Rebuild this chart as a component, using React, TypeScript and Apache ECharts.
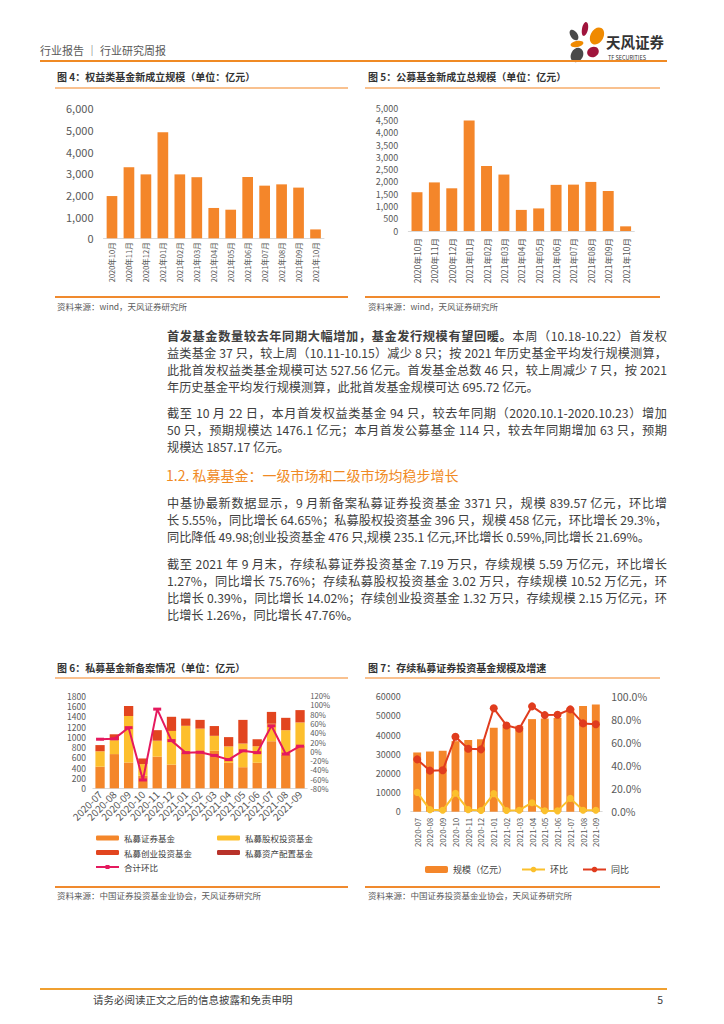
import React, { useEffect, useRef } from 'react';
import * as echarts from 'echarts';

const FONT = '"Noto Sans CJK SC", "Noto Sans", sans-serif';
const ORANGE = '#F4862A';
const AXIS_TEXT = '#595959';

// Figure 4 / 5
const months13 = ['2020年10月', '2020年11月', '2020年12月', '2021年01月', '2021年02月', '2021年03月', '2021年04月', '2021年05月', '2021年06月', '2021年07月', '2021年08月', '2021年09月', '2021年10月'];
const equityNew = [1950, 3280, 2950, 4890, 2950, 2820, 1400, 1320, 2830, 2430, 2490, 2340, 410];
const publicNew = [1580, 1980, 1740, 4500, 2650, 2300, 860, 920, 1880, 1890, 2000, 1630, 190];

// Figure 6
const months15 = ['2020-07', '2020-08', '2020-09', '2020-10', '2020-11', '2020-12', '2021-01', '2021-02', '2021-03', '2021-04', '2021-05', '2021-06', '2021-07', '2021-08', '2021-09'];
const pSecurities = [420, 665, 500, 245, 615, 460, 690, 730, 730, 495, 410, 495, 915, 650, 830];
const pEquity = [300, 270, 905, 225, 310, 655, 525, 430, 290, 320, 460, 320, 340, 480, 450];
const pVenture = [120, 115, 195, 110, 205, 275, 140, 170, 190, 180, 460, 140, 230, 240, 240];
const pAllocation = [0, 0, 0, 0, 0, 0, 0, 0, 0, 0, 0, 0, 0, 0, 0];
const pTotalRing = [26, 27, 51, -62, 91, 23, -3, -2, -9, -18, 1, -3, 55, -6, 11];

// Figure 7
const stockScale = [30900, 31400, 31800, 36800, 37400, 37800, 43800, 44400, 44800, 48300, 48600, 48900, 54000, 55200, 55900];
const stockRing = [16.8, 1.8, 1.2, 16.0, 1.8, 1.1, 15.7, 1.0, 1.3, 7.8, 0.8, 0.7, 11.6, 1.2, 1.3];
const stockYoy = [45.5, 35.7, 36.0, 65.2, 54.8, 54.2, 89.9, 75.0, 72.2, 91.6, 84.0, 84.3, 89.0, 76.8, 76.0];

const thousands = (v: number) => v.toString().replace(/\B(?=(\d{3})+(?!\d))/g, ',');
const plain = (v: number) => String(v);

const yBase = (gridIndex: number, min: number, max: number, interval: number, fontSize: number, formatter: any, margin: number, position?: string) => ({
  type: 'value', gridIndex, min, max, interval, position,
  axisLine: { show: false }, axisTick: { show: false }, splitLine: { show: false },
  axisLabel: { color: AXIS_TEXT, fontSize, lineHeight: fontSize, fontFamily: FONT, formatter, margin, showMinLabel: true, showMaxLabel: true, hideOverlap: false },
});

const xBase = (gridIndex: number, data: string[], rotate: number, fontSize: number, margin: number) => ({
  type: 'category', gridIndex, data,
  axisLine: { show: true, lineStyle: { color: '#D9D9D9', width: 1 } },
  axisTick: { show: false },
  axisLabel: { color: AXIS_TEXT, fontSize, fontFamily: FONT, rotate, margin, interval: 0 },
});

const petal = (x: number, y: number, rx: number, ry: number, rotation: number, color: string) => ({
  type: 'ellipse', x, y, rotation, shape: { cx: 0, cy: 0, rx, ry }, style: { fill: color },
});

const option: any = {
  animation: false,
  textStyle: { fontFamily: FONT },
  grid: [
    { left: 103.5, top: 108.3, width: 220.5, height: 130 },
    { left: 408.3, top: 108.3, width: 226, height: 122.7 },
    { left: 92.9, top: 695.7, width: 214.3, height: 92.6 },
    { left: 410.8, top: 696.7, width: 191.4, height: 115 },
  ],
  xAxis: [
    xBase(0, months13, 90, 7.5, 4),
    xBase(1, months13, 90, 8.5, 7),
    xBase(2, months15, 45, 10, 4),
    xBase(3, months15, 90, 8, 6),
  ],
  yAxis: [
    yBase(0, 0, 6000, 1000, 11, thousands, 10),
    yBase(1, 0, 5000, 500, 9, thousands, 10),
    yBase(2, 0, 1800, 200, 8.5, plain, 7, 'left'),
    yBase(2, -80, 120, 20, 7.7, (v: number) => v + '%', 3, 'right'),
    yBase(3, 0, 60000, 10000, 9, plain, 10, 'left'),
    yBase(3, 0, 100, 20, 10.5, (v: number) => v.toFixed(1) + '%', 9, 'right'),
  ],
  legend: [
    {
      left: 95, top: 833, orient: 'vertical', itemWidth: 23, itemHeight: 5, itemGap: 4.5, padding: 0,
      textStyle: { fontSize: 8.5, color: '#404040', fontFamily: FONT, lineHeight: 10 },
      data: ['私募证券基金', '私募创业投资基金', '合计环比'],
    },
    {
      left: 217, top: 833, orient: 'vertical', itemWidth: 23, itemHeight: 5, itemGap: 4.5, padding: 0,
      textStyle: { fontSize: 8.5, color: '#404040', fontFamily: FONT, lineHeight: 10 },
      data: ['私募股权投资基金', '私募资产配置基金'],
    },
    {
      left: 420, top: 860, orient: 'horizontal', itemWidth: 23, itemHeight: 7, itemGap: 14,
      textStyle: { fontSize: 9, color: '#404040', fontFamily: FONT },
      data: ['规模（亿元）', '环比', '同比'],
    },
  ],
  series: [
    { name: '权益类基金新成立规模', type: 'bar', xAxisIndex: 0, yAxisIndex: 0, data: equityNew, barWidth: '63%', itemStyle: { color: ORANGE } },
    { name: '公募基金新成立总规模', type: 'bar', xAxisIndex: 1, yAxisIndex: 1, data: publicNew, barWidth: '63%', itemStyle: { color: ORANGE } },
    { name: '私募证券基金', type: 'bar', stack: 'p', xAxisIndex: 2, yAxisIndex: 2, data: pSecurities, barWidth: '65%', itemStyle: { color: '#F4862A' } },
    { name: '私募股权投资基金', type: 'bar', stack: 'p', xAxisIndex: 2, yAxisIndex: 2, data: pEquity, barWidth: '65%', itemStyle: { color: '#FDBF2D' } },
    { name: '私募创业投资基金', type: 'bar', stack: 'p', xAxisIndex: 2, yAxisIndex: 2, data: pVenture, barWidth: '65%', itemStyle: { color: '#E2451F' } },
    { name: '私募资产配置基金', type: 'bar', stack: 'p', xAxisIndex: 2, yAxisIndex: 2, data: pAllocation, barWidth: '65%', itemStyle: { color: '#B8322A' } },
    { name: '合计环比', type: 'line', xAxisIndex: 2, yAxisIndex: 3, data: pTotalRing, symbol: 'rect', symbolSize: [8, 3], lineStyle: { color: '#E5195E', width: 2 }, itemStyle: { color: '#E5195E' }, z: 5 },
    { name: '规模（亿元）', type: 'bar', xAxisIndex: 3, yAxisIndex: 4, data: stockScale, barWidth: '62%', itemStyle: { color: ORANGE } },
    { name: '环比', type: 'line', xAxisIndex: 3, yAxisIndex: 5, data: stockRing, symbol: 'circle', symbolSize: 7, lineStyle: { color: '#FBC02D', width: 2 }, itemStyle: { color: '#FBC02D' }, z: 5 },
    { name: '同比', type: 'line', xAxisIndex: 3, yAxisIndex: 5, data: stockYoy, symbol: 'circle', symbolSize: 8, lineStyle: { color: '#E03C1E', width: 2 }, itemStyle: { color: '#E03C1E' }, z: 6 },
  ],
  graphic: [
    petal(585, 29, 3, 7, -0.2, '#A0143C'),
    petal(574, 35, 3.5, 6, 0.6, '#4A4A4A'),
    petal(597, 36, 6.5, 9, -0.5, '#F08A00'),
    petal(577, 44, 6.5, 3, 0.2, '#F08A00'),
    petal(577, 55, 6, 7.5, -0.5, '#4A4A4A'),
    petal(593, 52, 6, 5, 0.5, '#A0143C'),
  ],
};

const T = (p: { x: number; y: number; size: number; color?: string; bold?: boolean; children: any; right?: boolean }) => (
  <div style={{
    position: 'absolute', left: p.right ? undefined : p.x, right: p.right ? 724 - p.x : undefined, top: p.y, transform: 'translateY(-50%)',
    fontSize: p.size, lineHeight: 1.15, color: p.color || '#404040', fontWeight: p.bold ? 700 : 400, whiteSpace: 'nowrap',
  }}>{p.children}</div>
);

const HLine = (p: { x1: number; x2: number; y: number; color: string; w: number }) => (
  <div style={{ position: 'absolute', left: p.x1, top: p.y - p.w / 2, width: p.x2 - p.x1, height: p.w, background: p.color }} />
);

const TEXT_L = 167;
const TEXT_W = 500;
const BODY = 12.2;

const Line = (p: { y: number; last?: boolean; children: any }) => (
  <div style={{
    position: 'absolute', left: TEXT_L, width: TEXT_W, top: p.y - 8.5, height: 17, lineHeight: '17px', fontSize: BODY,
    color: '#404040', whiteSpace: 'nowrap', textAlign: 'justify', textAlignLast: p.last ? 'left' : 'justify',
  } as any}>{p.children}</div>
);

export default function App() {
  const ref = useRef<HTMLDivElement>(null);
  useEffect(() => {
    document.body.style.margin = '0';
    const chart = echarts.init(ref.current as HTMLDivElement, null, { renderer: 'svg' });
    chart.setOption(option);
    return () => chart.dispose();
  }, []);
  const titleC = '#333333';
  const topLine = '#F9C18F';
  const botLine = '#F08A2E';
  return (
    <div style={{ position: 'relative', width: 724, height: 1024, background: '#fff', overflow: 'hidden', fontFamily: FONT }}>
      <div ref={ref} style={{ position: 'absolute', left: 0, top: 0, width: 724, height: 1024 }} />
      {/* header */}
      <T x={40} y={50} size={11} color="#595959">行业报告 ｜ 行业研究周报</T>
      <HLine x1={40} x2={667} y={61} color="#F08A24" w={2} />
      <T x={606} y={42} size={14.5} color="#333" bold>天风证券</T>
      <T x={608} y={57.5} size={5.5} color="#333">TF SECURITIES</T>

      {/* fig 4 */}
      <T x={57} y={77} size={10} color={titleC} bold>图 4：权益类基金新成立规模（单位：亿元）</T>
      <HLine x1={55} x2={348} y={88} color={topLine} w={1.5} />
      <HLine x1={55} x2={348} y={297} color={botLine} w={1.5} />
      <T x={57} y={307} size={8.5} color="#595959">资料来源：wind，天风证券研究所</T>

      {/* fig 5 */}
      <T x={368} y={77} size={10} color={titleC} bold>图 5：公募基金新成立总规模（单位：亿元）</T>
      <HLine x1={365} x2={660} y={88} color={topLine} w={1.5} />
      <HLine x1={365} x2={660} y={297} color={botLine} w={1.5} />
      <T x={368} y={307} size={8.5} color="#595959">资料来源：wind，天风证券研究所</T>

      {/* paragraphs */}
      <Line y={336}><b>首发基金数量较去年同期大幅增加，基金发行规模有望回暖。</b>本周（10.18-10.22）首发权</Line>
      <Line y={353}>益类基金 37 只，较上周（10.11-10.15）减少 8 只；按 2021 年历史基金平均发行规模测算，</Line>
      <Line y={370}>此批首发权益类基金规模可达 527.56 亿元。首发基金总数 46 只，较上周减少 7 只，按 2021</Line>
      <Line y={387} last>年历史基金平均发行规模测算，此批首发基金规模可达 695.72 亿元。</Line>

      <Line y={413}>截至 10 月 22 日，本月首发权益类基金 94 只，较去年同期（2020.10.1-2020.10.23）增加</Line>
      <Line y={430}>50 只，预期规模达 1476.1 亿元；本月首发公募基金 114 只，较去年同期增加 63 只，预期</Line>
      <Line y={447} last>规模达 1857.17 亿元。</Line>

      <T x={TEXT_L - 1} y={475} size={14} color="#F08A24">1.2. 私募基金：一级市场和二级市场均稳步增长</T>

      <Line y={503}>中基协最新数据显示，9 月新备案私募证券投资基金 3371 只，规模 839.57 亿元，环比增</Line>
      <Line y={520}>长 5.55%，同比增长 64.65%；私募股权投资基金 396 只，规模 458 亿元，环比增长 29.3%，</Line>
      <Line y={537} last>同比降低 49.98;创业投资基金 476 只,规模 235.1 亿元,环比增长 0.59%,同比增长 21.69%。</Line>

      <Line y={564}>截至 2021 年 9 月末，存续私募证券投资基金 7.19 万只，存续规模 5.59 万亿元，环比增长</Line>
      <Line y={581}>1.27%，同比增长 75.76%；存续私募股权投资基金 3.02 万只，存续规模 10.52 万亿元，环</Line>
      <Line y={598}>比增长 0.39%，同比增长 14.02%；存续创业投资基金 1.32 万只，存续规模 2.15 万亿元，环</Line>
      <Line y={615} last>比增长 1.26%，同比增长 47.76%。</Line>

      {/* fig 6 */}
      <T x={57} y={668} size={10} color={titleC} bold>图 6：私募基金新备案情况（单位：亿元）</T>
      <HLine x1={55} x2={348} y={678} color={topLine} w={1.5} />
      <HLine x1={55} x2={348} y={887} color={botLine} w={1.5} />
      <T x={57} y={896} size={8.5} color="#595959">资料来源：中国证券投资基金业协会，天风证券研究所</T>

      {/* fig 7 */}
      <T x={368} y={668} size={10} color={titleC} bold>图 7：存续私募证券投资基金规模及增速</T>
      <HLine x1={365} x2={660} y={678} color={topLine} w={1.5} />
      <HLine x1={365} x2={660} y={887} color={botLine} w={1.5} />
      <T x={368} y={896} size={8.5} color="#595959">资料来源：中国证券投资基金业协会，天风证券研究所</T>

      {/* footer */}
      <HLine x1={40} x2={667} y={989} color="#F0A030" w={2} />
      <T x={93} y={1000} size={10.5} color="#404040">请务必阅读正文之后的信息披露和免责申明</T>
      <T x={663} y={1000} size={10.5} color="#404040" right>5</T>
    </div>
  );
}
